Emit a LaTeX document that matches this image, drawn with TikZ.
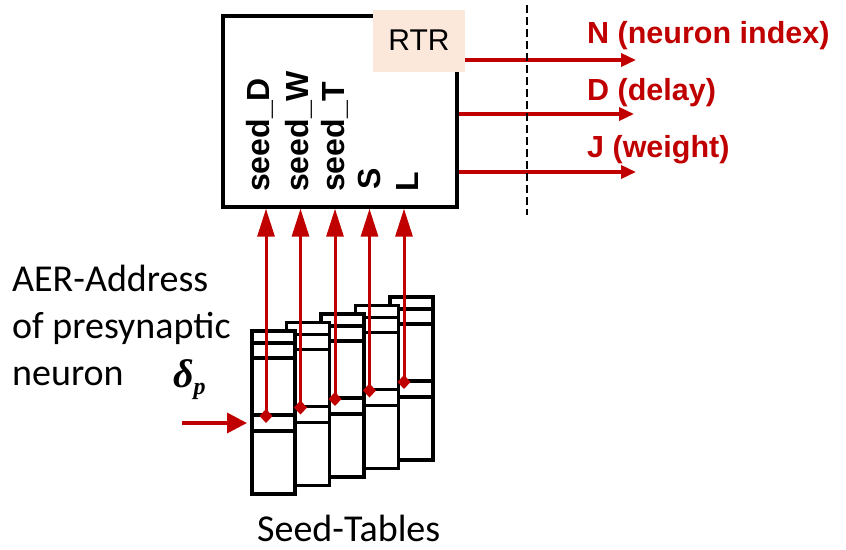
\documentclass[tikz,border=0pt]{standalone}
\usepackage{fontspec}
\setmainfont{Carlito}
\newfontfamily\arialfont{Liberation Sans}
\newfontfamily\greekfont{Liberation Serif}
\usetikzlibrary{arrows.meta,calc}

\definecolor{darkred}{RGB}{192,0,0}
\definecolor{peach}{RGB}{252,232,218}

\tikzset{
  seedtable/.style={draw,line width=3.6pt,fill=white,minimum width=43pt,minimum height=163pt,inner sep=0pt,anchor=north west},
  seedlabel/.style={font=\arialfont\bfseries\fontsize{32}{32}\selectfont,rotate=90,anchor=base west,inner sep=0pt},
  outlabel/.style={font=\arialfont\bfseries\fontsize{30.5}{31}\selectfont,text=darkred,anchor=base west,inner sep=0pt},
  seedarrow/.style={darkred,line width=3pt,{Diamond[length=14pt,width=13pt]}-{Triangle[length=28pt,width=17pt]}},
  outarrow/.style={darkred,line width=3.5pt,-{Triangle[length=15pt,width=13pt]}},
  inarrow/.style={darkred,line width=3.5pt,-{Triangle[length=20pt,width=20pt]},shorten >=3pt}
}

\begin{document}
\begin{tikzpicture}[x=1pt,y=-1pt]
  \useasboundingbox (0,0) rectangle (846,549);

  \node[draw,line width=3.3pt,minimum width=234pt,minimum height=191pt,inner sep=0pt] (core) at (340,111.5) {};
  \node[fill=peach,minimum width=92pt,minimum height=62pt,inner sep=0pt,font=\arialfont\fontsize{30}{30}\selectfont] (rtr) at (419,40.5) {RTR};

  \node[seedlabel] (sD) at (269,192) {seed\_D};
  \node[seedlabel] (sW) at (308,192) {seed\_W};
  \node[seedlabel] (sT) at (344,192) {seed\_T};
  \node[seedlabel] (sS) at (380,190) {S};
  \node[seedlabel] (sL) at (418,192) {L};

  % outputs of the RTR block
  \coordinate (nout) at (636,60);
  \coordinate (dout) at (634,114);
  \coordinate (jout) at (636,172);
  \draw[outarrow] (rtr.east |- nout) -- (nout);
  \draw[outarrow] (core.east |- dout) -- (dout);
  \draw[outarrow] (core.east |- jout) -- (jout);
  \node[outlabel] (nlab) at (587,43) {N (neuron index)};
  \node[outlabel] (dlab) at (587,100) {D (delay)};
  \node[outlabel] (jlab) at (587,157) {J (weight)};
  \draw[line width=2pt,dash pattern=on 8pt off 4pt] (527,5) -- (527,215);

  % seed tables, back to front
  \foreach \i in {4,3,2,1,0}{
    \node[seedtable] (t\i) at ({250+34.5*\i},{329-8.5*\i}) {};
    \foreach \d in {14,29,86,102}
      \draw[line width=3.4pt] ($(t\i.north west)+(0,\d)$) -- ($(t\i.north east)+(0,\d)$);
    \coordinate (m\i) at ($(t\i.north west)+(16,94)$);
  }
  \foreach \i in {0,...,4}
    \draw[seedarrow] (m\i) -- (m\i |- core.south);

  \node[anchor=base west,align=left,inner sep=0pt,font=\fontsize{38}{47}\selectfont] (aer) at (12,385) {AER-Address\\of presynaptic\\neuron};
  \node[anchor=base west,inner sep=0pt,font=\greekfont\bfseries\itshape\fontsize{40}{40}\selectfont] (dp) at (173,387) {δ\raisebox{-7pt}{\fontsize{24}{24}\selectfont p}};
  \coordinate (ain) at (182,423);
  \draw[inarrow] (ain) -- (t0.west |- m0);

  \node[anchor=base west,inner sep=0pt,font=\fontsize{38}{38}\selectfont] (stab) at (257,541) {Seed-Tables};
\end{tikzpicture}
\end{document}
